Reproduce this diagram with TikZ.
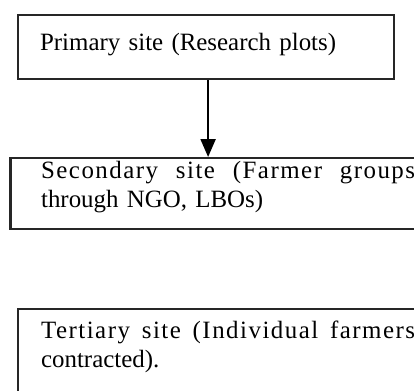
\documentclass[tikz,border=0pt]{standalone}
\usepackage{fontspec}
\setmainfont{Liberation Serif}
\usepackage{tikz}
\usetikzlibrary{arrows.meta, positioning}
\tikzset{%
	every site/.style={
		draw=black!85,
		line width=2.2bp,
		rectangle,
		anchor=north west,
		align=left,
		inner ysep=0pt,
		font=\fontsize{25}{30}\selectfont
	},
	site primary/.style={
		text width=332bp,
		inner xsep=22bp,
		text height=35bp,
		text depth=29bp
	},
	site secondary/.style={
		text width=374bp,
		inner xsep=30.5bp,
		text height=20bp,
		text depth=51bp
	},
	site tertiary/.style={
		text width=374bp,
		inner xsep=23bp,
		text height=29bp,
		text depth=120bp
	},
}
% first line of a box, tracked and spread over the full text width
\newcommand{\fullline}[1]{\hbox to 374bp{\addfontfeature{LetterSpace=6}%
	\spaceskip=.25em plus 1fil\relax #1}}

\begin{document}
\begin{tikzpicture}[x=1bp, y=-1bp, >={Triangle[length=18bp, width=15bp]}]
			
			\useasboundingbox (0,0) rectangle (414,391);
			\clip (0,0) rectangle (414,391);
			
			\node [every site/.try, site primary/.try] (primary) at (17,14)
			{Primary site (Research plots)};
			
			\node [every site/.try, site secondary/.try] (secondary) at (9.5,157)
			{\fullline{Secondary site (Farmer groups}\\through NGO, LBOs)};
			
			\node [every site/.try, site tertiary/.try] (tertiary) at (17,308)
			{\fullline{Tertiary site (Individual farmers}\\contracted).};
			
			\draw [->, line width=2.2bp] ([xshift=2bp]primary.south)
			-- ([xshift=2bp]primary.south |- secondary.north);
			
		\end{tikzpicture}
\end{document}
